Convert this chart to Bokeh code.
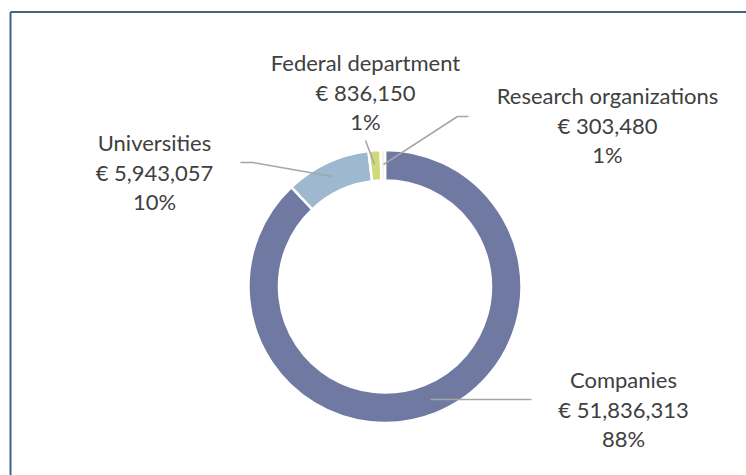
from bokeh.plotting import figure
from bokeh.models import Range1d, ColumnDataSource
from bokeh.core.properties import value
from bokeh.embed import file_html
from bokeh.resources import INLINE

# ---- data ----
categories = ["Companies", "Universities", "Federal department", "Research organizations"]
amounts = [51836313, 5943057, 836150, 303480]
colors = ["#6f79a1", "#9db8cf", "#d0da7c", "#f2f2df"]

W, H = 746, 475


def px(x):
    return x


def py(y):
    return H - y


p = figure(width=W, height=H, output_backend="svg", toolbar_location=None,
           x_range=Range1d(0, W), y_range=Range1d(0, H), min_border=0,
           border_fill_alpha=0, outline_line_alpha=0)
p.axis.visible = False
p.grid.visible = False
p.outline_line_color = None
p.background_fill_color = "white"

# frame border (continues past the window)
p.segment(x0=[px(10), px(10)], y0=[py(H), py(11.5)], x1=[px(10), px(W)], y1=[py(11.5), py(11.5)],
          line_color="#45627f", line_width=2)

total = sum(amounts)
fracs = [a / total for a in amounts]
starts, ends = [], []
cum = 0.0
for f in fracs:
    ends.append(90 - 360 * cum)
    cum += f
    starts.append(90 - 360 * cum)

src = ColumnDataSource(dict(start=starts, end=ends, color=colors))
cx, cy = px(384.5), py(286)
p.annular_wedge(x=cx, y=cy, inner_radius=106, outer_radius=136.5,
                start_angle="start", end_angle="end", start_angle_units="deg",
                end_angle_units="deg", direction="anticlock",
                fill_color="color", line_color="white", line_width=2.5, source=src)

# leader lines (page coords)
leaders = [
    [(430, 399), (531, 399)],
    [(332, 176), (252, 162), (240, 162)],
    [(374, 164), (365, 140)],
    [(383, 164), (457, 116), (468, 116)],
]
for pts in leaders:
    p.line(x=[px(a) for a, b in pts], y=[py(b) for a, b in pts],
           line_color="#a6a6a6", line_width=1.5)

# label anchors (page coords: center x, first baseline)
anchors = [(623, 379), (154, 142), (365, 62), (607, 95)]
for cat, amt, f, (ax, ay) in zip(categories, amounts, fracs, anchors):
    lines = [cat, "€ {:,}".format(amt), "{}%".format(round(f * 100))]
    p.text(x=[px(ax)] * 3, y=[py(ay + i * 29.5) for i in range(3)], text=lines,
           text_align="center", text_baseline="alphabetic",
           text_font=value("Lato"), text_font_size="22px", text_color="#404040")

open("out.html", "w").write(file_html(p, INLINE))
